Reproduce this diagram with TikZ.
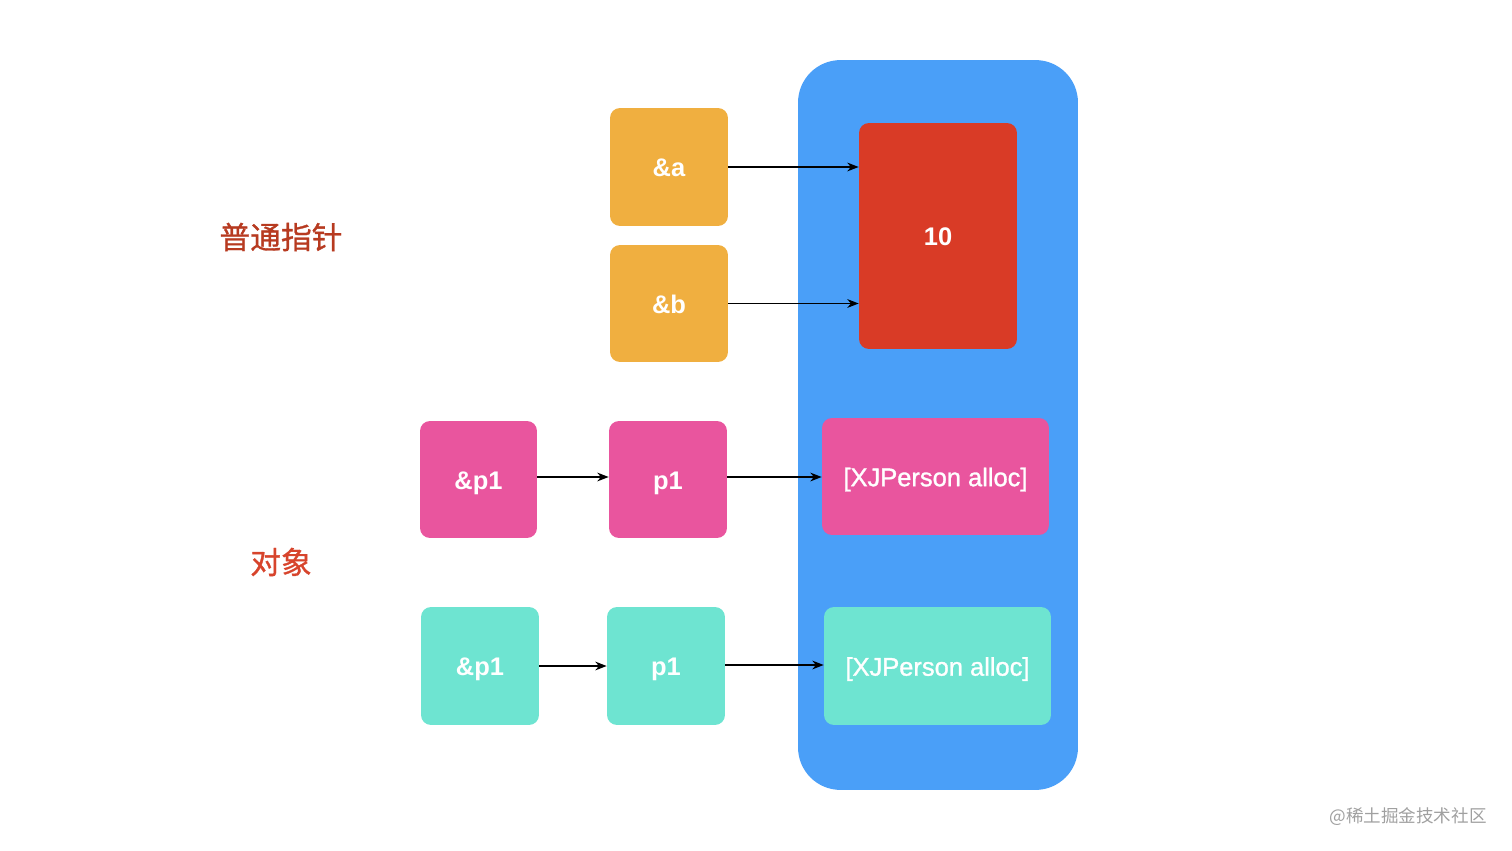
\documentclass[tikz,border=0pt]{standalone}
\usepackage{fontspec}
\setmainfont{Liberation Sans}
\newfontfamily\allocfont[FakeBold=1.2]{Liberation Sans}
\newfontfamily\cjk{Noto Sans CJK SC}
\newfontfamily\cjkb[FakeBold=1]{Noto Sans CJK SC}
\usetikzlibrary{arrows.meta}
\definecolor{cOrange}{HTML}{F0AF40}
\definecolor{cRed}{HTML}{D93B26}
\definecolor{cBlue}{HTML}{4A9FF8}
\definecolor{cPink}{HTML}{E9559E}
\definecolor{cTeal}{HTML}{6EE4D1}
\definecolor{cLabA}{HTML}{B73A20}
\definecolor{cLabB}{HTML}{D7442C}
\definecolor{cWm}{HTML}{A0A0A0}
\tikzset{
  box/.style={rounded corners=0.2cm, inner sep=0pt, text=white, text height=12.5pt, text depth=1.5pt, font=\fontsize{14.5pt}{16pt}\selectfont\bfseries},
  sq/.style={box, minimum width=2.36cm, minimum height=2.36cm},
  wide/.style={box, minimum width=4.54cm, minimum height=2.36cm, font=\allocfont\fontsize{14.5pt}{16pt}\selectfont},
  arr/.style={-{Stealth[length=6.5pt,width=5pt]}, line width=0.85pt, black},
  lab/.style={font=\cjkb\fontsize{17.5pt}{20pt}\selectfont, inner sep=0pt}
}
\begin{document}
\begin{tikzpicture}[x=0.02cm,y=-0.02cm]
\useasboundingbox (0,0) rectangle (1512,851);
\node[fill=cBlue, rounded corners=0.85cm, minimum width=5.6cm, minimum height=14.6cm, inner sep=0pt] (mem) at (938,425) {};
\node[box, fill=cRed, minimum width=3.16cm, minimum height=4.52cm] (ten) at (938,236) {10};
\node[sq, fill=cOrange] (a) at (669,167) {\&a};
\node[sq, fill=cOrange, minimum height=2.34cm] (b) at (669,303.5) {\&b};
\node[sq, fill=cPink, minimum width=2.34cm, minimum height=2.34cm] (pp1) at (478.5,479.5) {\&p1};
\node[sq, fill=cPink, minimum height=2.34cm] (p1) at (668,479.5) {p1};
\node[wide, fill=cPink, minimum height=2.34cm] (obj1) at (935.5,476.5) {[XJPerson alloc]};
\node[sq, fill=cTeal] (pp2) at (480,666) {\&p1};
\node[sq, fill=cTeal] (p2) at (666,666) {p1};
\node[wide, fill=cTeal] (obj2) at (937.5,666) {[XJPerson alloc]};
\node[lab, text=cLabA] (l1) at (281,237) {普通指针};
\node[lab, text=cLabB] (l2) at (281,562) {对象};
\node[font=\cjk\fontsize{10pt}{12pt}\selectfont, text=cWm, inner sep=0pt] (wm) at (1408,817) {@稀土掘金技术社区};
\draw[arr] (a.east) -- (a.east -| ten.west);
\draw[arr] (b.east) -- (b.east -| ten.west);
\draw[arr] ([yshift=0.05cm]pp1.east) -- ([yshift=0.05cm]pp1.east -| p1.west);
\draw[arr] ([yshift=0.05cm]p1.east) -- ([yshift=0.05cm]p1.east -| obj1.west);
\draw[arr] (pp2.east) -- (pp2.east -| p2.west);
\draw[arr] ([yshift=0.02cm]p2.east) -- ([yshift=0.02cm]p2.east -| obj2.west);
\end{tikzpicture}
\end{document}
